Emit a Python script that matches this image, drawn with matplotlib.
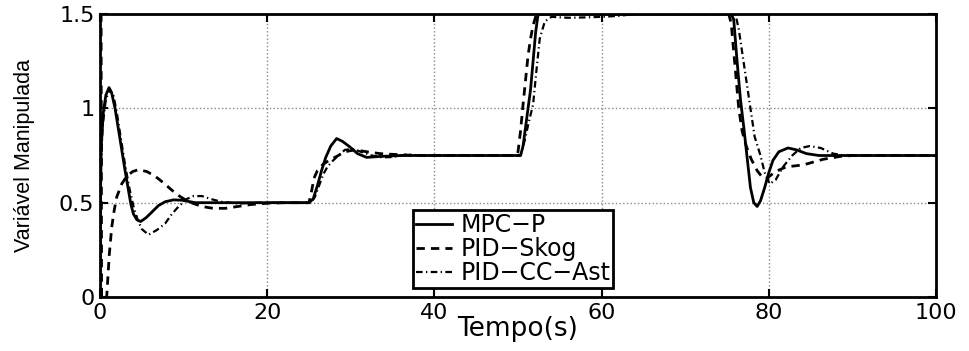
import matplotlib
matplotlib.use("Agg")
import matplotlib.pyplot as plt

# values
# MPC-P (solid)
t_mpc = [0, 0.05, 0.15, 0.4, 0.7, 1.08, 1.4, 1.8, 2.2, 2.6, 3.0, 3.4, 3.7, 4.0, 4.4, 4.86, 5.5, 6.2, 7.0, 7.8, 8.8, 9.8, 11.4,
         25.0, 25.5, 26.0, 26.5, 27.0, 27.6, 28.3, 29.0, 29.9, 30.8, 31.9, 33.5, 36.0,
         50.3, 50.6, 50.9, 51.2, 51.5, 51.8, 52.1, 52.4,
         75.5, 75.8, 76.2, 76.6, 77.0, 77.4, 77.8, 78.2, 78.6, 79.0, 79.5, 80.0, 80.5, 81.2, 82.3, 83.3, 84.5, 86.0, 100]
u_mpc = [0, 0.5, 0.8, 0.98, 1.07, 1.11, 1.08, 1.0, 0.89, 0.78, 0.67, 0.566, 0.49, 0.44, 0.41, 0.40, 0.42, 0.45, 0.485, 0.505, 0.515, 0.513, 0.5,
         0.5, 0.52, 0.59, 0.67, 0.74, 0.80, 0.84, 0.825, 0.795, 0.76, 0.74, 0.745, 0.75,
         0.75, 0.80, 0.90, 1.0, 1.1, 1.25, 1.4, 1.5,
         1.5, 1.47, 1.25, 1.05, 0.90, 0.74, 0.58, 0.50, 0.48, 0.51, 0.58, 0.66, 0.725, 0.77, 0.79, 0.78, 0.76, 0.75, 0.75]

# PID-Skog (dashed)
t_skog = [0, 0.03, 0.12, 0.2, 0.7, 0.8, 1.1, 1.4, 1.7, 2.0, 2.6, 3.2, 3.9, 4.6, 5.6, 6.6, 7.6, 8.6, 9.5, 10.4, 11.2, 12.2, 13.5, 15.0, 16.5, 18.0, 20.0, 22.0,
          25.0, 25.3, 25.6, 26.0, 26.6, 27.4, 28.3, 29.3, 30.5, 31.9, 33.5, 35.5, 38.0,
          49.8, 50.0, 50.3, 50.6, 50.9, 51.2, 51.5, 51.8, 52.2,
          75.2, 75.5, 75.8, 76.1, 76.4, 76.8, 77.3, 77.9, 78.6, 79.3, 79.8, 80.5, 81.3, 82.1, 84.1, 86.5, 88.5, 90.0, 100]
u_skog = [0, 1.7, 1.7, -0.2, -0.2, 0.0, 0.22, 0.37, 0.46, 0.53, 0.6, 0.64, 0.665, 0.675, 0.665, 0.64, 0.605, 0.566, 0.535, 0.51, 0.495, 0.48, 0.47, 0.47, 0.48, 0.49, 0.497, 0.5,
          0.5, 0.56, 0.63, 0.67, 0.70, 0.725, 0.745, 0.77, 0.78, 0.77, 0.76, 0.755, 0.75,
          0.75, 0.77, 0.88, 1.02, 1.15, 1.28, 1.37, 1.44, 1.5,
          1.5, 1.45, 1.3, 1.15, 1.0, 0.88, 0.8, 0.73, 0.67, 0.63, 0.63, 0.655, 0.675, 0.69, 0.70, 0.73, 0.745, 0.75, 0.75]

# PID-CC-Ast (dash-dot)
t_ast = [0, 0.05, 0.3, 0.7, 1.2, 1.6, 2.0, 2.5, 3.0, 3.5, 4.0, 4.5, 5.0, 5.8, 6.8, 7.8, 8.6, 9.4, 10.4, 11.2, 12.2, 13.2, 14.5, 16.5, 19.0,
         25.2, 25.7, 26.2, 26.7, 27.2, 27.8, 28.5, 29.3, 30.2, 31.2, 32.5, 33.8, 35.0, 36.7, 38.5,
         50.3, 50.8, 51.3, 51.8, 52.2, 52.6, 53.2, 54.0, 56.0, 58.0, 60.0, 62.0, 64.0,
         76.0, 76.4, 76.8, 77.3, 77.8, 78.3, 79.0, 79.5, 80.1, 80.8, 81.7, 82.8, 83.8, 84.9, 86.2, 87.7, 89.0, 100]
u_ast = [0, 0.6, 0.9, 1.05, 1.1, 1.07, 0.98, 0.84, 0.70, 0.58, 0.48, 0.41, 0.36, 0.33, 0.355, 0.39, 0.44, 0.48, 0.52, 0.535, 0.535, 0.52, 0.505, 0.495, 0.5,
         0.5, 0.53, 0.59, 0.65, 0.69, 0.72, 0.75, 0.78, 0.785, 0.77, 0.75, 0.74, 0.742, 0.755, 0.75,
         0.75, 0.83, 0.93, 1.02, 1.2, 1.37, 1.46, 1.485, 1.48, 1.482, 1.485, 1.49, 1.5,
         1.5, 1.42, 1.3, 1.15, 1.0, 0.85, 0.75, 0.66, 0.60, 0.62, 0.69, 0.75, 0.79, 0.80, 0.79, 0.76, 0.75, 0.75]

labels = ["MPC\u2212P", "PID\u2212Skog", "PID\u2212CC\u2212Ast"]

plt.rcParams['font.family'] = ['DejaVu Sans']

fig = plt.figure(figsize=(9.7, 3.51), dpi=100)
ax = fig.add_axes([0.1031, 0.1538, 0.8619, 0.8063])

ax.plot(t_mpc, u_mpc, color="black", linestyle="-", linewidth=2.0, label=labels[0])
ax.plot(t_skog, u_skog, color="black", linestyle=(0, (3, 2.2)), linewidth=2.0, label=labels[1])
ax.plot(t_ast, u_ast, color="black", linestyle=(0, (3, 1.5, 0.6, 1.5)), linewidth=1.6, label=labels[2])

ax.set_xlim(0, 100)
ax.set_ylim(0, 1.5)
ax.set_xticks([0, 20, 40, 60, 80, 100])
ax.set_yticks([0, 0.5, 1, 1.5])
ax.set_yticklabels(["0", "0.5", "1", "1.5"])
ax.grid(True, linestyle=":", color="#888888", linewidth=1.0)
ax.tick_params(direction="in", top=True, right=True, length=6, width=1.5, labelsize=16, pad=4)
for s in ax.spines.values():
    s.set_linewidth(2.0)

ax.set_xlabel("Tempo(s)", fontsize=19, labelpad=-5)
ax.set_ylabel("Variável Manipulada", fontsize=15.5, family="Liberation Sans")
ax.yaxis.set_label_coords(-0.078, 0.5)

leg = ax.legend(loc="lower left", bbox_to_anchor=(0.374, 0.032), fontsize=17, frameon=True, fancybox=False,
                handlelength=1.55, handletextpad=0.35, borderpad=0.12, labelspacing=0.0, borderaxespad=0)
leg.get_frame().set_edgecolor("black")
leg.get_frame().set_linewidth(2.0)
leg.get_frame().set_alpha(1)

fig.savefig("out.png", dpi=100)
